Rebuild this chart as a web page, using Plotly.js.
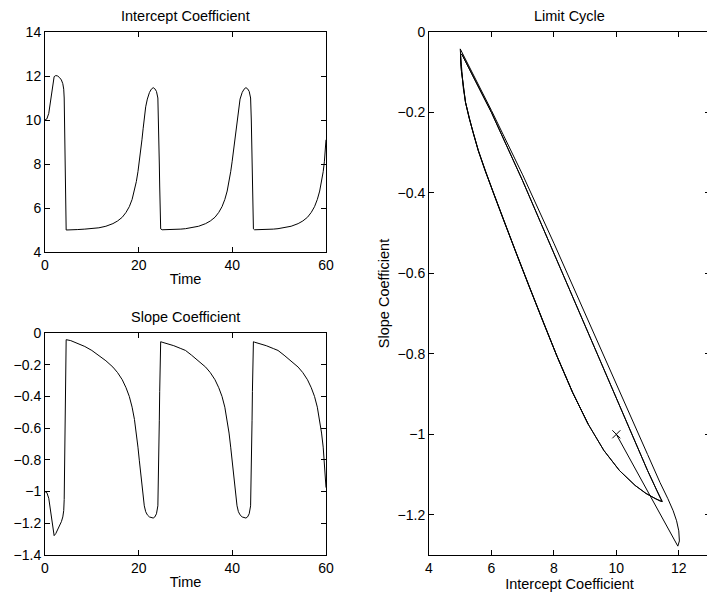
<!DOCTYPE html>
<html>
<head>
<meta charset="utf-8">
<script src="https://cdn.plot.ly/plotly-3.0.1.min.js"></script>
<style>
html,body{margin:0;padding:0;overflow:hidden;background:#fff;}
</style>
</head>
<body>
<div id="chart" style="width:712px;height:596px"></div>
<script>
// Time samples
const time = [
  0,0.4,0.8,1.1,1.4,1.7,1.95,2.3,2.7,3.1,3.5,3.8,4.0,4.1,4.2,4.27,4.33,4.39,4.45,4.52,
  5.5,7.0,8.5,10.0,11.5,13.0,14.5,15.5,16.5,17.3,18.0,18.6,19.1,19.5,19.85,20.15,20.45,20.7,20.95,21.2,21.5,21.85,22.3,22.7,23.1,23.45,23.8,24.1,24.25,24.33,24.41,24.49,24.57,24.7,
  25.0,26.0,27.5,29.0,30.0,31.3,32.8,34.3,35.3,36.3,37.1,37.8,38.4,38.9,39.3,39.65,39.95,40.25,40.5,40.75,41.0,41.3,41.65,42.1,42.5,42.9,43.25,43.6,43.9,44.05,44.13,44.21,44.29,44.37,44.5,
  44.75,45.75,47.25,48.75,49.75,51.05,52.55,54.05,55.05,56.05,56.85,57.55,58.15,58.65,59.05,59.4,59.65,59.83,60.0
];
// Intercept coefficient
const intercept = [
  10.0,10.05,10.3,10.75,11.3,11.75,11.97,12.02,12.0,11.93,11.82,11.65,11.4,11.0,10.0,9.0,8.0,7.0,6.0,5.0,
  5.0,5.02,5.04,5.06,5.10,5.17,5.29,5.41,5.58,5.80,6.06,6.39,6.77,7.2,7.65,8.1,8.6,9.1,9.6,10.1,10.6,10.95,11.25,11.4,11.47,11.42,11.3,11.0,10.0,9.0,8.0,7.0,6.0,5.05,
  5.01,5.01,5.02,5.04,5.06,5.10,5.17,5.29,5.41,5.58,5.80,6.06,6.39,6.77,7.2,7.65,8.1,8.6,9.1,9.6,10.1,10.6,10.95,11.25,11.4,11.47,11.42,11.3,11.0,10.0,9.0,8.0,7.0,6.0,5.05,
  5.01,5.01,5.02,5.04,5.06,5.10,5.17,5.29,5.41,5.58,5.80,6.06,6.39,6.77,7.2,7.65,8.1,8.6,9.1
];
// Slope coefficient
const slope = [
  -1.0,-1.007,-1.042,-1.105,-1.182,-1.245,-1.278,-1.265,-1.24,-1.215,-1.19,-1.16,-1.12,-1.05,-0.875,-0.70,-0.525,-0.355,-0.195,-0.042,
  -0.048,-0.065,-0.085,-0.11,-0.14,-0.175,-0.215,-0.25,-0.295,-0.345,-0.40,-0.468,-0.545,-0.631,-0.72,-0.806,-0.896,-0.975,-1.04,-1.09,-1.127,-1.147,-1.16,-1.166,-1.167,-1.16,-1.14,-1.09,-0.91,-0.73,-0.55,-0.37,-0.2,-0.055,
  -0.058,-0.066,-0.08,-0.098,-0.11,-0.14,-0.175,-0.215,-0.25,-0.295,-0.345,-0.40,-0.468,-0.545,-0.631,-0.72,-0.806,-0.896,-0.975,-1.04,-1.09,-1.127,-1.147,-1.16,-1.166,-1.167,-1.16,-1.14,-1.09,-0.91,-0.73,-0.55,-0.37,-0.2,-0.055,
  -0.058,-0.066,-0.08,-0.098,-0.11,-0.14,-0.175,-0.215,-0.25,-0.295,-0.345,-0.40,-0.468,-0.545,-0.631,-0.72,-0.806,-0.896,-0.975
];
const timeTicks = [0,20,40,60];
const interceptTicks = [4,6,8,10,12,14];
const slopeTicks = [0,-0.2,-0.4,-0.6,-0.8,-1,-1.2,-1.4];
const cycleXTicks = [4,6,8,10,12];
const cycleYTicks = [0,-0.2,-0.4,-0.6,-0.8,-1,-1.2];

const W = 712, H = 596;
const FONT = 'Liberation Sans, Arial, Helvetica, sans-serif';
const tickFont = {family: FONT, size: 14, color: '#000'};
const titleFont = {family: FONT, size: 14.5, color: '#000'};
const line = {color: '#000', width: 1};

const traces = [
  {x: time, y: intercept, xaxis: 'x', yaxis: 'y', mode: 'lines', line: line, hoverinfo: 'skip'},
  {x: time, y: slope, xaxis: 'x2', yaxis: 'y2', mode: 'lines', line: line, hoverinfo: 'skip'},
  {x: intercept, y: slope, xaxis: 'x3', yaxis: 'y3', mode: 'lines', line: line, hoverinfo: 'skip'},
  {x: [intercept[0]], y: [slope[0]], xaxis: 'x3', yaxis: 'y3', mode: 'markers',
   marker: {symbol: 'x-thin-open', size: 8, color: '#000', line: {color: '#000', width: 1}}, hoverinfo: 'skip'}
];

function ax(extra) {
  return Object.assign({
    showline: true, linecolor: '#000', linewidth: 1, mirror: 'ticks',
    ticks: 'inside', ticklen: 5, tickwidth: 1, tickcolor: '#000',
    showgrid: false, zeroline: false, tickfont: tickFont, automargin: false, fixedrange: true
  }, extra);
}
const px = v => v / W;
const py = v => 1 - v / H;

const layout = {
  width: W, height: H,
  margin: {l: 0, r: 0, t: 0, b: 0},
  paper_bgcolor: '#fff', plot_bgcolor: '#fff',
  showlegend: false,
  font: tickFont,
  xaxis: ax({domain: [px(45), px(326)], anchor: 'y', range: [0, 60], tickvals: timeTicks,
             title: {text: 'Time', font: titleFont, standoff: 2}}),
  yaxis: ax({domain: [py(252), py(32)], anchor: 'x', range: [4, 14], tickvals: interceptTicks}),
  xaxis2: ax({domain: [px(45), px(326)], anchor: 'y2', range: [0, 60], tickvals: timeTicks,
              title: {text: 'Time', font: titleFont, standoff: 2}}),
  yaxis2: ax({domain: [py(555), py(333)], anchor: 'x2', range: [-1.4, 0], tickvals: slopeTicks}),
  xaxis3: ax({domain: [px(429), px(710)], anchor: 'y3', range: [4, 13], tickvals: cycleXTicks,
              title: {text: 'Intercept Coefficient', font: titleFont, standoff: 1}}),
  yaxis3: ax({domain: [py(555), py(32)], anchor: 'x3', range: [-1.3, 0], tickvals: cycleYTicks,
              title: {text: 'Slope Coefficient', font: titleFont, standoff: 4}}),
  annotations: [
    {text: 'Intercept Coefficient', xref: 'paper', yref: 'paper', x: px(185.5), y: py(16), xanchor: 'center', yanchor: 'middle', showarrow: false, font: titleFont},
    {text: 'Slope Coefficient', xref: 'paper', yref: 'paper', x: px(185.5), y: py(317), xanchor: 'center', yanchor: 'middle', showarrow: false, font: titleFont},
    {text: 'Limit Cycle', xref: 'paper', yref: 'paper', x: px(569.5), y: py(16), xanchor: 'center', yanchor: 'middle', showarrow: false, font: titleFont}
  ]
};

Plotly.newPlot('chart', traces, layout, {displayModeBar: false, staticPlot: true});
</script>
</body>
</html>
